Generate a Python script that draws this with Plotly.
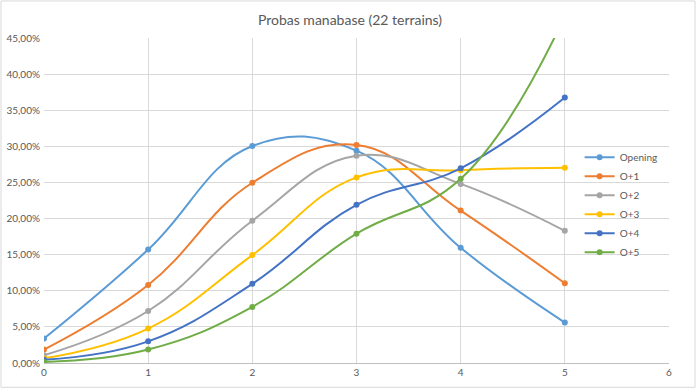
import plotly.graph_objects as go

x_vals = [0, 1, 2, 3, 4, 5]
series_names = ["Opening", "O+1", "O+2", "O+3", "O+4", "O+5"]
opening = [0.0338, 0.157, 0.3005, 0.294, 0.1595, 0.056]
o1 = [0.0186, 0.108, 0.2496, 0.302, 0.211, 0.1105]
o2 = [0.0107, 0.072, 0.197, 0.287, 0.248, 0.183]
o3 = [0.0065, 0.0477, 0.1494, 0.257, 0.267, 0.2705]
o4 = [0.0045, 0.030, 0.1096, 0.219, 0.2696, 0.3675]
o5 = [0.0014, 0.0186, 0.0777, 0.179, 0.255, 0.48]
colors = ["#5B9BD5", "#ED7D31", "#A5A5A5", "#FFC000", "#4472C4", "#70AD47"]

all_series = [opening, o1, o2, o3, o4, o5]

FONT = "Lato"
fig = go.Figure()
for name, vals, col in zip(series_names, all_series, colors):
    fig.add_trace(go.Scatter(
        x=x_vals, y=vals, name=name, mode="lines+markers",
        line=dict(color=col, width=2, shape="spline", smoothing=1.2),
        marker=dict(color=col, size=6),
    ))

fig.update_layout(
    width=700, height=388,
    margin=dict(l=44, r=31, t=38, b=25),
    paper_bgcolor="white", plot_bgcolor="white",
    separators=", ",
    font=dict(family=FONT, size=10, color="#595959"),
    title=dict(text="Probas manabase (22 terrains)", x=0.5, xanchor="center",
               y=0.948, yanchor="middle",
               font=dict(family=FONT, size=14, color="#595959")),
    xaxis=dict(range=[0, 6], dtick=1, tick0=0, showgrid=True, gridcolor="#D9D9D9",
               gridwidth=1, zeroline=False, showline=True, linecolor="#BFBFBF",
               ticks="", automargin=False, tickfont=dict(size=10, color="#595959")),
    yaxis=dict(range=[0, 0.45], dtick=0.05, tick0=0, tickformat=".2%",
               showgrid=True, gridcolor="#D9D9D9", gridwidth=1, zeroline=False,
               showline=False, ticks="", automargin=False, ticklabelstandoff=3,
               tickfont=dict(size=10, color="#595959")),
    legend=dict(x=0.857, xanchor="left", y=0.678, yanchor="top",
                bgcolor="rgba(0,0,0,0)", font=dict(size=10, color="#595959"),
                itemwidth=30, tracegroupgap=0),
    showlegend=True,
)
fig.add_shape(type="rect", xref="paper", yref="paper",
              x0=-0.0688, x1=1.0416, y0=-0.0748, y1=1.114,
              line=dict(color="#D9D9D9", width=1), layer="below")

fig.write_html("out.html", config={"displayModeBar": False},
               post_script="document.body.style.margin='0';")
